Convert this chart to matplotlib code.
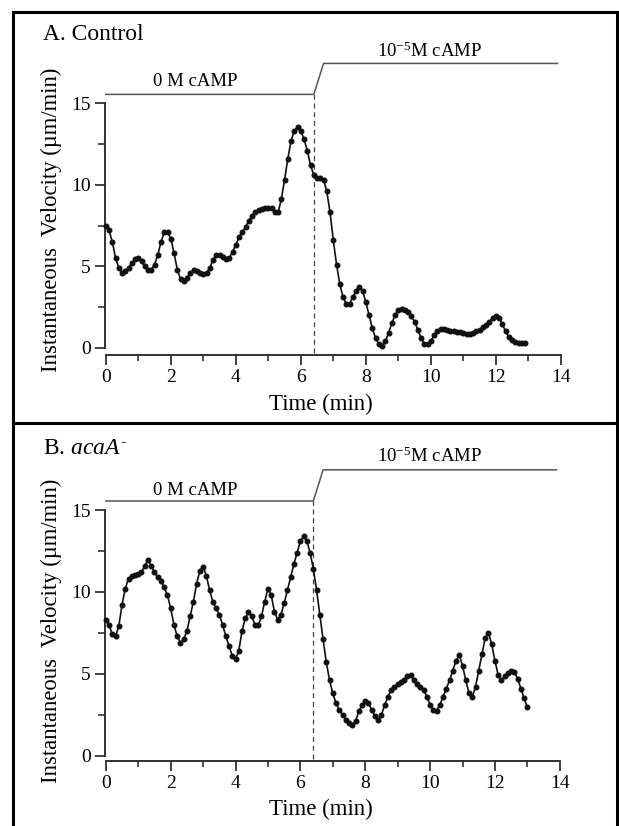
import matplotlib
matplotlib.use("Agg")
import matplotlib.pyplot as plt
from matplotlib.ticker import FixedLocator
from matplotlib.lines import Line2D

plt.rcParams['font.family'] = ['Liberation Serif', 'DejaVu Serif']
plt.rcParams['mathtext.fontset'] = 'custom'
plt.rcParams['mathtext.rm'] = 'Liberation Serif'
plt.rcParams['mathtext.it'] = 'Liberation Serif:italic'
plt.rcParams['mathtext.bf'] = 'Liberation Serif:bold'

# ---------------- data ----------------
time_a = [round(0.1 * i, 1) for i in range(130)]
vel_a = [7.5, 7.2, 6.5, 5.5, 4.9, 4.6, 4.7, 4.9, 5.2, 5.45,
         5.5, 5.3, 5.0, 4.8, 4.8, 5.1, 5.7, 6.5, 7.1, 7.1,
         6.7, 5.8, 4.8, 4.2, 4.1, 4.3, 4.6, 4.75, 4.7, 4.6,
         4.5, 4.6, 4.9, 5.4, 5.7, 5.7, 5.55, 5.45, 5.5, 5.9,
         6.3, 6.8, 7.1, 7.4, 7.8, 8.1, 8.3, 8.45, 8.5, 8.55,
         8.6, 8.55, 8.35, 8.3, 9.1, 10.3, 11.6, 12.7, 13.3, 13.55,
         13.3, 12.8, 12.1, 11.2, 10.6, 10.4, 10.4, 10.3, 9.6, 8.3,
         6.6, 5.1, 3.9, 3.1, 2.7, 2.7, 3.1, 3.5, 3.75, 3.5,
         2.8, 2.0, 1.2, 0.6, 0.2, 0.1, 0.4, 0.9, 1.5, 2.0,
         2.3, 2.35, 2.3, 2.2, 1.95, 1.6, 1.1, 0.6, 0.25, 0.2,
         0.4, 0.75, 1.0, 1.15, 1.12, 1.08, 1.05, 1.0, 0.98, 0.95,
         0.88, 0.82, 0.85, 0.92, 1.0, 1.1, 1.25, 1.4, 1.6, 1.8,
         1.95, 1.85, 1.45, 1.0, 0.65, 0.45, 0.33, 0.3, 0.3, 0.3]

time_b = [round(0.1 * i, 1) for i in range(131)]
vel_b = [8.3, 8.0, 7.4, 7.3, 7.9, 9.2, 10.2, 10.8, 11.0, 11.05,
         11.1, 11.2, 11.6, 11.95, 11.6, 11.2, 10.9, 10.65, 10.3, 9.8,
         9.0, 8.0, 7.3, 6.9, 7.1, 7.6, 8.5, 9.4, 10.5, 11.3,
         11.55, 11.0, 10.1, 9.4, 9.0, 8.6, 8.0, 7.3, 6.7, 6.1,
         5.9, 6.4, 7.6, 8.4, 8.75, 8.5, 8.0, 7.95, 8.5, 9.4,
         10.2, 9.8, 8.8, 8.3, 8.6, 9.3, 10.1, 10.9, 11.7, 12.4,
         13.1, 13.4, 13.1, 12.4, 11.4, 10.1, 8.6, 7.1, 5.7, 4.6,
         3.8, 3.2, 2.8, 2.5, 2.2, 2.0, 1.9, 2.1, 2.7, 3.1,
         3.35, 3.2, 2.8, 2.4, 2.2, 2.5, 3.1, 3.6, 4.0, 4.2,
         4.35, 4.5, 4.65, 4.85, 4.95, 4.6, 4.35, 4.2, 4.0, 3.6,
         3.1, 2.8, 2.75, 3.1, 3.6, 4.1, 4.6, 5.2, 5.8, 6.15,
         5.5, 4.6, 3.8, 3.6, 4.2, 5.2, 6.2, 7.2, 7.5, 6.8,
         5.8, 4.9, 4.6, 4.85, 5.05, 5.2, 5.1, 4.7, 4.1, 3.5,
         2.95]

xticks = [0, 2, 4, 6, 8, 10, 12, 14]
xminor = [1, 3, 5, 7, 9, 11, 13]
yticks = [0, 5, 10, 15]
yminor = [2.5, 7.5, 12.5]
switch_time = 6.4
bracket_x = [0, 6.4, 6.7, 13.9]
bracket_y = [15.55, 15.55, 17.45, 17.45]
label_low = "0 M cAMP"
label_high = r"10$^{-5}$M cAMP"
titles = ["A. Control", r"B. $\mathit{acaA}^{\mathbf{\text{-}}}$"]
xlabel = "Time (min)"
ylabel = "Instantaneous  Velocity (\u00b5m/min)"

W, H = 619, 826
fig = plt.figure(figsize=(W / 100, H / 100), dpi=100)

def px_axes(x0, xs, y0, ys, xlim, ylim):
    left = x0 + xlim[0] * xs
    right = x0 + xlim[1] * xs
    bottom = y0 - ylim[0] * ys
    top = y0 - ylim[1] * ys
    return [left / W, 1 - bottom / H, (right - left) / W, (bottom - top) / H]

panels = [
    dict(t=time_a, v=vel_a, x0=105.8, xs=32.5, y0=347.7, ys=16.29, ybot=-0.45,
         title_y=35, ylab_y=220, xlab_y=404, low_y=16.33, high_y=18.17),
    dict(t=time_b, v=vel_b, x0=105.8, xs=32.43, y0=755.7, ys=16.38, ybot=-0.33,
         title_y=448, ylab_y=631, xlab_y=809, low_y=16.22, high_y=18.25),
]

for i, p in enumerate(panels):
    xlim = (-0.3, 14.3)
    ylim = (p['ybot'], 19)
    ax = fig.add_axes(px_axes(p['x0'], p['xs'], p['y0'], p['ys'], xlim, ylim))
    ax.set_xlim(*xlim)
    ax.set_ylim(*ylim)
    ax.patch.set_alpha(0)
    for s in ['top', 'right']:
        ax.spines[s].set_visible(False)
    ax.spines['left'].set_position(('data', -0.03))
    ax.spines['left'].set_bounds(0, 15)
    ax.spines['bottom'].set_bounds(0, 14)
    for s in ['left', 'bottom']:
        ax.spines[s].set_linewidth(1.3)
        ax.spines[s].set_color('#222222')
    ax.set_xticks(xticks)
    ax.set_yticks(yticks)
    ax.xaxis.set_minor_locator(FixedLocator(xminor))
    ax.yaxis.set_minor_locator(FixedLocator(yminor))
    ax.tick_params(axis='both', which='major', length=7, width=1.2, color='#222222',
                   labelsize=14, pad=3)
    ax.tick_params(axis='x', which='minor', length=4, width=1.1, color='#222222')
    ax.tick_params(axis='y', which='minor', length=5, width=1.1, color='#222222')

    ax.plot(p['t'], p['v'], color='#111111', lw=1.2, marker='o', ms=3.3,
            mfc='#111111', mec='#111111', clip_on=False, zorder=3)
    ax.plot([switch_time, switch_time], [ylim[0] + 0.1, bracket_y[0]],
            ls=(0, (4, 3)), color='#444444', lw=0.9, clip_on=False)
    ax.plot(bracket_x, bracket_y, color='#555555', lw=1.1, clip_on=False)
    ax.text(2.76, p['low_y'], label_low, ha='center', va='center', fontsize=13.5)
    ax.text(9.97, p['high_y'], label_high, ha='center', va='center', fontsize=13.5)

    fig.text(43 / W, 1 - p['title_y'] / H, titles[i], ha='left', va='center', fontsize=17)
    fig.text(51 / W, 1 - p['ylab_y'] / H, ylabel, ha='center', va='center',
             rotation=90, fontsize=16.3)
    fig.text(321 / W, 1 - p['xlab_y'] / H, xlabel, ha='center', va='center', fontsize=16.5)

# panel frames
frame = dict(color='black', lw=2.2, transform=fig.transFigure, clip_on=False)
fig.add_artist(Line2D([13 / W, 13 / W], [0, 1 - 12 / H], **frame))
fig.add_artist(Line2D([13 / W, 1], [1 - 12 / H, 1 - 12 / H], **frame))
fig.add_artist(Line2D([13 / W, 1], [1 - 423 / H, 1 - 423 / H], **frame))
fig.add_artist(Line2D([617 / W, 617 / W], [0, 1 - 12 / H], **frame))

fig.savefig("out.png", dpi=100)
